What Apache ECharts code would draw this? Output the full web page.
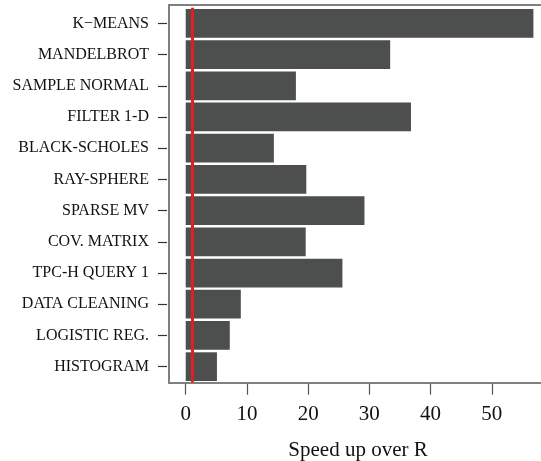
<!DOCTYPE html>
<html>
<head>
<meta charset="utf-8">
<script src="https://cdn.jsdelivr.net/npm/echarts@6/dist/echarts.min.js"></script>
<style>
  html, body { margin: 0; padding: 0; background: #ffffff; }
  #chart { width: 541px; height: 461px; }
</style>
</head>
<body>
<div id="chart"></div>
<script>
// Benchmarks, listed top to bottom
const benchmarks = [
  'K\u2212MEANS', 'MANDELBROT', 'SAMPLE NORMAL', 'FILTER 1-D', 'BLACK-SCHOLES',
  'RAY-SPHERE', 'SPARSE MV', 'COV. MATRIX', 'TPC-H QUERY 1', 'DATA CLEANING',
  'LOGISTIC REG.', 'HISTOGRAM'
];
// Speed-up of each benchmark relative to R
const speedups = [56.8, 33.4, 18.0, 36.8, 14.4, 19.7, 29.2, 19.6, 25.6, 9.0, 7.2, 5.1];
// Reference line: parity with R
const baseline = 1;
// Tick values on the speed-up axis
const xTicks = [0, 10, 20, 30, 40, 50];

const serif = '"Liberation Serif", "DejaVu Serif", serif';

const chart = echarts.init(document.getElementById('chart'), null, { renderer: 'canvas' });

chart.setOption({
  animation: false,
  backgroundColor: '#ffffff',
  grid: [
    { left: 169, right: -12, top: 7.75, bottom: 78.75, containLabel: false, outerBoundsMode: 'none' },
    // plot frame (open on the right, clipped by the canvas edge)
    { left: 169, right: -12, top: 5, bottom: 78, show: true, outerBoundsMode: 'none',
      borderColor: '#808080', borderWidth: 2, backgroundColor: 'transparent' }
  ],
  xAxis: [
    {
      gridIndex: 0,
      type: 'value',
      min: -2.73,
      max: 60,
      offset: 1.5,
      splitLine: { show: false },
      axisLine: { show: false, onZero: false },
      axisTick: { show: true, length: 11, customValues: xTicks,
        lineStyle: { color: '#555555', width: 1.2 } },
      axisLabel: { customValues: xTicks, margin: 20, fontFamily: serif, fontSize: 21, color: '#111111' },
      name: 'Speed up over R',
      nameLocation: 'middle',
      nameGap: 56,
      nameTextStyle: { fontFamily: serif, fontSize: 21, color: '#111111', padding: [0, 6, 0, 0] }
    },
    { gridIndex: 1, type: 'value', show: false, min: 0, max: 1 }
  ],
  yAxis: [
    {
      gridIndex: 0,
      type: 'category',
      data: benchmarks,
      inverse: true,
      offset: 2,
      axisLine: { show: false, onZero: false },
      axisTick: { show: true, length: 9, alignWithLabel: true,
        lineStyle: { color: '#333333', width: 1.2 } },
      axisLabel: { margin: 18, fontFamily: serif, fontSize: 16, color: '#111111' },
      splitLine: { show: false }
    },
    { gridIndex: 1, type: 'value', show: false, min: 0, max: 1 }
  ],
  series: [
    {
      type: 'bar',
      xAxisIndex: 0,
      yAxisIndex: 0,
      data: speedups,
      barCategoryGap: '8%',
      itemStyle: { color: '#4d4f4f' },
      markLine: {
        silent: true,
        symbol: ['none', 'none'],
        label: { show: false },
        lineStyle: { color: '#e02020', width: 3, type: 'solid' },
        data: [{ xAxis: baseline }]
      }
    }
  ]
});
</script>
</body>
</html>
